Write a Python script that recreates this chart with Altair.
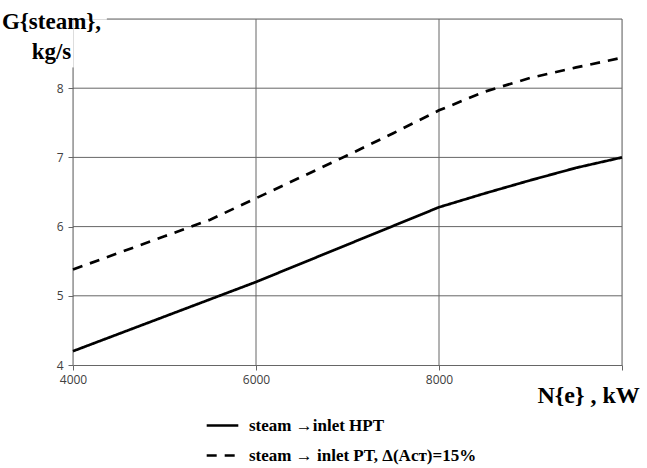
import altair as alt
import pandas as pd

# Data
x_vals = [4000, 4500, 5000, 5500, 6000, 6500, 7000, 7500, 8000, 8500, 9000, 9500, 10000]
hpt_vals = [4.20, 4.45, 4.70, 4.95, 5.20, 5.47, 5.74, 6.01, 6.28, 6.48, 6.67, 6.85, 7.00]
pt_vals = [5.38, 5.62, 5.86, 6.10, 6.41, 6.72, 7.03, 7.35, 7.68, 7.95, 8.15, 8.30, 8.44]
series_names = ["steam \u2192inlet HPT", "steam \u2192 inlet PT, \u0394(A\u0441\u0442)=15%"]

x_ticks = [4000, 6000, 8000, 10000]
y_ticks = [4, 5, 6, 7, 8]

# grid segments (x1, x2, y1, y2)
grid_x1 = [4000, 4000, 4000, 4000, 4370, 6000, 8000, 10000, 4000]
grid_x2 = [10000, 10000, 10000, 10000, 10000, 6000, 8000, 10000, 4000]
grid_y1 = [5, 6, 7, 8, 9, 4, 4, 4, 4]
grid_y2 = [5, 6, 7, 8, 9, 9, 9, 9, 8.3]

rows = []
for name, vals in zip(series_names, [hpt_vals, pt_vals]):
    for xv, yv in zip(x_vals, vals):
        rows.append({"N": xv, "G": yv, "series": name})
df = pd.DataFrame(rows)
grid_df = pd.DataFrame({"x1": grid_x1, "x2": grid_x2, "y1": grid_y1, "y2": grid_y2})

GRID = "#666666"
xs = alt.Scale(domain=[4000, 10000], nice=False, zero=False)
ys = alt.Scale(domain=[4, 9], nice=False, zero=False)

grid = alt.Chart(grid_df).mark_rule(color=GRID, strokeWidth=1).encode(
    x=alt.X("x1:Q", scale=xs),
    x2="x2:Q",
    y=alt.Y("y1:Q", scale=ys),
    y2="y2:Q",
)

lines = alt.Chart(df).mark_line(color="black", strokeWidth=2.7).encode(
    x=alt.X("N:Q", scale=xs, axis=alt.Axis(
        values=x_ticks, grid=False, domain=True, domainColor=GRID, tickColor=GRID,
        tickSize=5, labelPadding=4, labelFont="Open Sans", labelFontSize=12,
        labelFlush=False, labelColor="#404040",
        labelExpr="datum.value == 10000 ? '' : datum.value",
        title="N{e} , kW", titleFont="Liberation Serif", titleFontWeight="bold",
        titleFontSize=24, titleColor="black", titleAngle=0, titleAlign="left",
        titleBaseline="alphabetic", titleX=464, titleY=37)),
    y=alt.Y("G:Q", scale=ys, axis=alt.Axis(
        values=y_ticks, grid=False, domain=False, tickColor=GRID, tickSize=5,
        labelPadding=5, labelFont="Open Sans", labelFontSize=12, labelColor="#404040",
        labelFlush=False, format="d",
        title=["G{steam},", "kg/s"], titleFont="Liberation Serif", titleFontWeight="bold",
        titleFontSize=23, titleColor="black", titleAngle=0, titleAlign="center",
        titleBaseline="alphabetic", titleLineHeight=30, titleX=-22, titleY=9)),
    strokeDash=alt.StrokeDash("series:N", sort=series_names,
        scale=alt.Scale(domain=series_names, range=[[1, 0], [10, 8]]),
        legend=alt.Legend(orient="none", legendX=132, legendY=389, title=None,
            symbolType="stroke", symbolSize=1000, symbolStrokeWidth=2.7,
            symbolStrokeColor="black", labelFont="Liberation Serif",
            labelFontWeight="bold", labelFontSize=17, labelColor="black",
            labelOffset=9, rowPadding=4, labelLimit=400)),
)

chart = alt.layer(grid, lines).properties(
    width=549, height=346,
    padding={"left": 73, "top": 19, "right": 25, "bottom": 103},
    autosize=alt.AutoSizeParams(type="none"),
).configure_view(stroke=None).configure(background="white")

chart.save("out.html", embed_options={"renderer": "svg", "actions": False})
